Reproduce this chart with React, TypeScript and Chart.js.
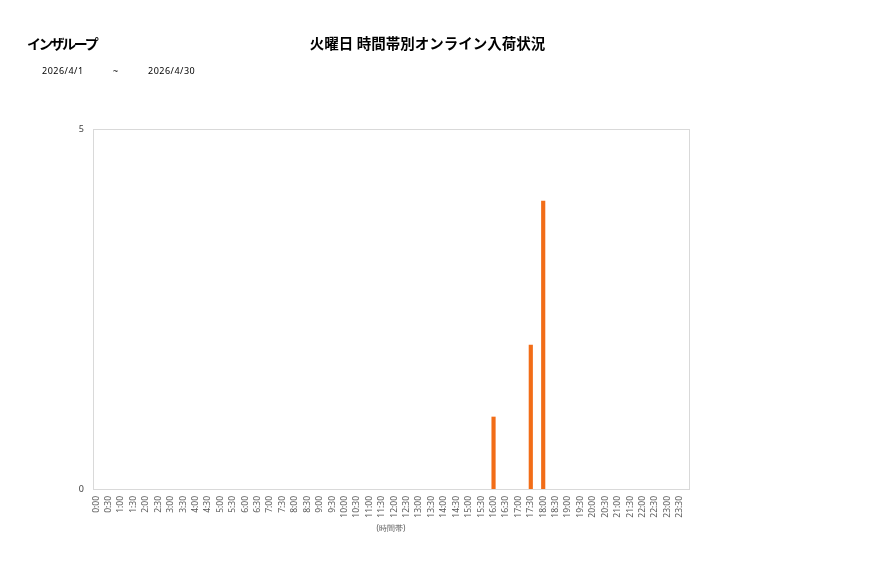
import { Chart, registerables } from "chart.js";
import { useEffect, useRef } from "react";

Chart.register(...registerables);

const storeName = "インザループ";
const chartTitle = "火曜日 時間帯別オンライン入荷状況";
const dateFrom = "2026/4/1";
const dateTo = "2026/4/30";
const axisTitle = "(時間帯)";

const timeSlots = [
    "0:00", "0:30", "1:00", "1:30", "2:00", "2:30", "3:00", "3:30",
    "4:00", "4:30", "5:00", "5:30", "6:00", "6:30", "7:00", "7:30",
    "8:00", "8:30", "9:00", "9:30", "10:00", "10:30", "11:00", "11:30",
    "12:00", "12:30", "13:00", "13:30", "14:00", "14:30", "15:00", "15:30",
    "16:00", "16:30", "17:00", "17:30", "18:00", "18:30", "19:00", "19:30",
    "20:00", "20:30", "21:00", "21:30", "22:00", "22:30", "23:00", "23:30",
];

const arrivals = [
    0, 0, 0, 0, 0, 0, 0, 0,
    0, 0, 0, 0, 0, 0, 0, 0,
    0, 0, 0, 0, 0, 0, 0, 0,
    0, 0, 0, 0, 0, 0, 0, 0,
    1, 0, 0, 2, 4, 0, 0, 0,
    0, 0, 0, 0, 0, 0, 0, 0,
];

const yTicks = [0, 5];

const tickFont = "'Noto Sans', 'DejaVu Sans', sans-serif";
const tickColor = "#595959";
const frameShift = 3; // the frame sits a little right of the category band

// draws the plot frame, x labels (reading bottom to top) and axis title
const framePlugin = {
    id: "frame",
    afterDraw(chart: any) {
        const { ctx, chartArea, scales } = chart;
        ctx.save();
        ctx.strokeStyle = "#d9d9d9";
        ctx.lineWidth = 1;
        ctx.strokeRect(
            Math.round(chartArea.left + frameShift) + 0.5,
            Math.round(chartArea.top) + 0.5,
            Math.round(chartArea.right - chartArea.left),
            Math.round(chartArea.bottom - chartArea.top)
        );

        const x = scales.x;
        ctx.fillStyle = tickColor;
        ctx.font = `8.5px ${tickFont}`;
        ctx.textAlign = "right";
        ctx.textBaseline = "middle";
        timeSlots.forEach((label, i) => {
            ctx.save();
            ctx.translate(x.getPixelForValue(i), chartArea.bottom + 7);
            ctx.rotate(-Math.PI / 2);
            ctx.fillText(label, 0, 0);
            ctx.restore();
        });

        ctx.font = `8px ${tickFont}`;
        ctx.textAlign = "center";
        ctx.textBaseline = "middle";
        ctx.fillText(axisTitle, (chartArea.left + chartArea.right) / 2 + frameShift, chartArea.bottom + 40);
        ctx.restore();
    },
};

function OnlineChart() {
    const chartRef: any = useRef(null);

    useEffect(() => {
        if (!chartRef?.current) return;
        const chart = new Chart(chartRef.current.getContext("2d"), {
            type: "bar",
            data: {
                labels: timeSlots,
                datasets: [
                    {
                        data: arrivals.map((v) => (v === 0 ? null : v)),
                        backgroundColor: "#f26d17",
                        barThickness: 3.5,
                    },
                ],
            },
            options: {
                responsive: false,
                animation: false,
                layout: {
                    padding: { top: 129, right: 188 + frameShift, bottom: 0, left: 0 },
                },
                scales: {
                    x: {
                        grid: { display: false },
                        border: { display: false },
                        ticks: { display: false },
                        afterFit: (scale: any) => {
                            scale.height = 89;
                        },
                    },
                    y: {
                        min: 0,
                        max: 5,
                        grid: { display: false, drawTicks: false },
                        border: { display: false },
                        afterBuildTicks: (scale: any) => {
                            scale.ticks = yTicks.map((v) => ({ value: v }));
                        },
                        ticks: {
                            color: "#404040",
                            font: { size: 9, family: tickFont },
                            padding: 6,
                        },
                        afterFit: (scale: any) => {
                            scale.width = 93 - frameShift;
                        },
                    },
                },
                plugins: {
                    legend: { display: false },
                    title: { display: false },
                    tooltip: { enabled: false },
                },
            },
            plugins: [framePlugin],
        });
        return () => {
            chart.destroy();
        };
    }, []);

    return <canvas ref={chartRef} width={877} height={578} style={{ position: "absolute", left: 0, top: 0 }} />;
}

export default function App() {
    const headFont = "'Noto Sans CJK JP', 'Noto Sans', sans-serif";
    return (
        <div style={{ position: "absolute", left: 0, top: 0, width: 877, height: 578, background: "#fff", overflow: "hidden" }}>
            <OnlineChart />
            <div style={{ position: "absolute", left: 27, top: 33, fontFamily: headFont, fontWeight: 700, fontSize: 14, color: "#000", whiteSpace: "nowrap", letterSpacing: -2.3 }}>
                {storeName}
            </div>
            <div style={{ position: "absolute", left: 0, width: 855, top: 32, textAlign: "center", fontFamily: headFont, fontWeight: 700, fontSize: 14.5, color: "#000", whiteSpace: "nowrap" }}>
                {chartTitle}
            </div>
            <div style={{ position: "absolute", left: 42, top: 64, fontFamily: tickFont, fontSize: 9, color: "#000", whiteSpace: "nowrap", letterSpacing: 0.5 }}>
                {dateFrom}
            </div>
            <div style={{ position: "absolute", left: 113, top: 64, fontFamily: tickFont, fontSize: 9, color: "#000" }}>~</div>
            <div style={{ position: "absolute", left: 148, top: 64, fontFamily: tickFont, fontSize: 9, color: "#000", whiteSpace: "nowrap", letterSpacing: 0.5 }}>
                {dateTo}
            </div>
        </div>
    );
}
